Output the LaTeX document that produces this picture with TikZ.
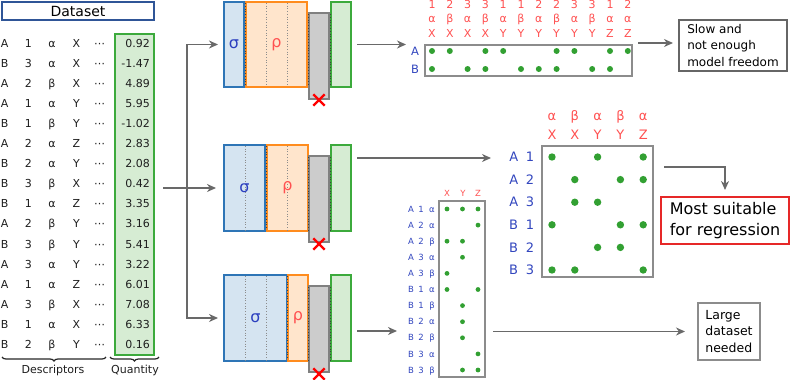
\documentclass[tikz,border=0pt]{standalone}
\usepackage{fontspec}
\setmainfont{DejaVu Sans}
\usetikzlibrary{arrows.meta,decorations.pathreplacing,shapes.misc}

\definecolor{sigB}{RGB}{46,117,182}
\definecolor{sigF}{RGB}{213,228,241}
\definecolor{rhoB}{RGB}{255,140,30}
\definecolor{rhoF}{RGB}{255,229,204}
\definecolor{grB}{RGB}{128,128,128}
\definecolor{grF}{RGB}{204,204,204}
\definecolor{gnB}{RGB}{60,170,60}
\definecolor{gnF}{RGB}{214,236,211}
\definecolor{sigT}{RGB}{43,63,191}
\definecolor{hdrT}{RGB}{255,80,80}
\definecolor{rowT}{RGB}{50,70,190}
\definecolor{dotG}{RGB}{50,160,50}
\definecolor{arrG}{RGB}{105,105,105}
\definecolor{dsB}{RGB}{47,85,151}
\definecolor{txtC}{RGB}{30,30,30}
\definecolor{mxB}{RGB}{140,140,140}
\definecolor{mostB}{RGB}{230,40,40}

\tikzset{
  fs/.style={font=\fontsize{#1}{#1}\selectfont},
  blk/.style={draw, line width=1.6pt, inner sep=0pt, outer sep=0pt},
  sigbox/.style={blk, draw=sigB, fill=sigF},
  rhobox/.style={blk, draw=rhoB, fill=rhoF},
  graybox/.style={blk, draw=grB, fill=grF},
  greenbox/.style={blk, draw=gnB, fill=gnF},
  sep/.style={draw=black!75, line width=0.8pt, dotted},
  innerdot/.style={draw=black!45, line width=0.7pt, dotted},
  xmark/.style={cross out, draw=red, line width=2.4pt, minimum size=9pt, inner sep=0pt},
  sigtxt/.style={fs=16, text=sigT, inner sep=0pt},
  rhotxt/.style={fs=16, text=hdrT, inner sep=0pt},
  tt/.style={fs=11, text=txtC, inner sep=0pt},
  hdr/.style={fs=11, text=hdrT, inner sep=0pt},
  rowl/.style={fs=11.5, text=rowT, inner sep=0pt},
  hdrM/.style={fs=13, text=hdrT, inner sep=0pt},
  rowM/.style={fs=13, text=rowT, inner sep=0pt},
  hdrS/.style={fs=8.5, text=hdrT, inner sep=0pt},
  rowS/.style={fs=8.5, text=rowT, inner sep=0pt},
  mx/.style={draw=mxB, line width=1.2pt, inner sep=0pt, outer sep=0pt},
  msgbox/.style={draw=#1, line width=1.2pt, inner sep=0pt, outer sep=0pt, align=left, text=black},
  arr/.style={draw=arrG, line width=1.5pt, -{Stealth[length=9pt,width=8pt]}},
  brc/.style={draw=black!85, line width=1.2pt, decorate, decoration={brace, mirror, amplitude=4pt}},
}

\begin{document}
\begin{tikzpicture}[x=1pt,y=-1pt]
\useasboundingbox (0,0) rectangle (790,380);

% ---------------- dataset ----------------
\node[draw=dsB, line width=1.5pt, minimum width=152pt, minimum height=18pt, inner sep=0pt, fs=14] (ds) at (78,11) {Dataset};
\node[greenbox, line width=1.8pt, minimum width=39pt, minimum height=321pt] (qb) at (134.5,194.5) {};

\foreach \i/\a/\b/\c/\d/\v in {1/A/1/α/X/0.92, 2/B/3/α/X/-1.47, 3/A/2/β/X/4.89, 4/A/1/α/Y/5.95,
  5/B/1/β/Y/-1.02, 6/A/2/α/Z/2.83, 7/B/2/α/Y/2.08, 8/B/3/β/X/0.42, 9/B/1/α/Z/3.35, 10/A/2/β/Y/3.16,
  11/B/3/β/Y/5.41, 12/A/3/α/Y/3.22, 13/A/1/α/Z/6.01, 14/A/3/β/X/7.08, 15/B/1/α/X/6.33, 16/B/2/β/Y/0.16} {
  \pgfmathsetmacro\yy{43+20.1*(\i-1)+4}
  \node[tt, anchor=base] (ta\i) at (4.7,\yy) {\a};
  \node[tt, anchor=base] (tb\i) at (28.3,\yy) {\b};
  \node[tt, anchor=base] (tc\i) at (52,\yy) {\c};
  \node[tt, anchor=base] (td\i) at (76.5,\yy) {\d};
  \node[tt, anchor=base] (te\i) at (99.5,\yy) {⋯};
  \node[tt, anchor=base east] (tv\i) at (150,\yy) {\v};
}
\draw[brc] (2,357) -- (106,357);
\draw[brc] (110,357) -- (159,357);
\node[tt, anchor=base] (lblD) at (53,373) {Descriptors};
\node[tt, anchor=base] (lblQ) at (135,373) {Quantity};

% ---------------- architectures ----------------
% top
\node[sigbox, minimum width=20pt, minimum height=85pt] (s1) at (234,44.5) {};
\node[rhobox, minimum width=61pt, minimum height=85pt] (r1) at (276.5,44.5) {};
\node[graybox, minimum width=20pt, minimum height=86pt] (g1) at (319,56) {};
\node[greenbox, minimum width=20pt, minimum height=85pt] (n1) at (341,44.5) {};
\draw[innerdot] (266,3) -- (266,86); \draw[innerdot] (287,3) -- (287,86);
\draw[sep] (245,3) -- (245,86); \draw[sep] (308,14) -- (308,86); \draw[sep] (330,14) -- (330,86);
\node[sigtxt] (s1t) at (s1) {σ};
\node[rhotxt] (r1t) at (r1) {ρ};
\node[xmark] (x1) at (319,100) {};
% middle
\node[sigbox, minimum width=41pt, minimum height=86pt] (s2) at (244.5,188) {};
\node[rhobox, minimum width=41pt, minimum height=86pt] (r2) at (287.5,188) {};
\node[graybox, minimum width=20pt, minimum height=86pt] (g2) at (319,199) {};
\node[greenbox, minimum width=20pt, minimum height=86pt] (n2) at (341,188) {};
\draw[innerdot] (245,146) -- (245,230); \draw[innerdot] (287,146) -- (287,230);
\draw[sep] (266,146) -- (266,230); \draw[sep] (308,157) -- (308,230); \draw[sep] (330,157) -- (330,230);
\node[sigtxt] (s2t) at (s2) {σ};
\node[rhotxt] (r2t) at (r2) {ρ};
\node[xmark] (x2) at (319,244) {};
% bottom
\node[sigbox, minimum width=63pt, minimum height=86pt] (s3) at (255.5,318) {};
\node[rhobox, minimum width=20pt, minimum height=86pt] (r3) at (298,318) {};
\node[graybox, minimum width=20pt, minimum height=86pt] (g3) at (319,329) {};
\node[greenbox, minimum width=20pt, minimum height=86pt] (n3) at (341,318) {};
\draw[innerdot] (245,276) -- (245,360); \draw[innerdot] (266,276) -- (266,360);
\draw[sep] (287.5,276) -- (287.5,360); \draw[sep] (308,287) -- (308,360); \draw[sep] (330,287) -- (330,360);
\node[sigtxt] (s3t) at (s3) {σ};
\node[rhotxt] (r3t) at (r3) {ρ};
\node[xmark] (x3) at (319,374) {};

% ---------------- top matrix ----------------
\node[mx, minimum width=207pt, minimum height=31pt] (tm) at (528.5,60.5) {};
\foreach \j/\n/\g/\l in {1/1/α/X, 2/2/β/X, 3/3/α/X, 4/3/β/X, 5/1/α/Y, 6/1/β/Y, 7/2/α/Y, 8/2/β/Y,
  9/3/α/Y, 10/3/β/Y, 11/1/α/Z, 12/2/α/Z} {
  \pgfmathsetmacro\xx{432+17.8*(\j-1)}
  \node[hdr, anchor=base] (tha\j) at (\xx,8.8) {\n};
  \node[hdr, anchor=base] (thb\j) at (\xx,22) {\g};
  \node[hdr, anchor=base] (thc\j) at (\xx,37) {\l};
}
\foreach \j in {1,2,4,5,8,9,11,12} { \fill[dotG] ({432+17.8*(\j-1)},51) circle (3); }
\foreach \j in {1,3,4,6,7,8,10,11} { \fill[dotG] ({432+17.8*(\j-1)},69) circle (3); }
\node[rowl, anchor=base] (tra) at (415,55) {A};
\node[rowl, anchor=base] (trb) at (415,73) {B};

% ---------------- middle matrix ----------------
\node[mx, minimum width=111pt, minimum height=131pt] (mm) at (597.5,211.5) {};
\foreach \j/\g/\l in {1/α/X, 2/β/X, 3/α/Y, 4/β/Y, 5/α/Z} {
  \pgfmathsetmacro\xx{552+22.8*(\j-1)}
  \node[hdrM, anchor=base] (mha\j) at (\xx,120) {\g};
  \node[hdrM, anchor=base] (mhb\j) at (\xx,139.2) {\l};
}
\foreach \i/\a/\b/\cols in {1/A/1/{1,3,5}, 2/A/2/{2,4,5}, 3/A/3/{2,3}, 4/B/1/{1,4,5}, 5/B/2/{3,4}, 6/B/3/{1,2,5}} {
  \pgfmathsetmacro\yy{157+22.6*(\i-1)}
  \node[rowM, anchor=base] (mra\i) at (513.7,\yy+4.7) {\a};
  \node[rowM, anchor=base] (mrb\i) at (530,\yy+4.7) {\b};
  \foreach \j in \cols { \fill[dotG] ({552+22.8*(\j-1)},\yy) circle (3.7); }
}

% ---------------- bottom matrix ----------------
\node[mx, minimum width=46pt, minimum height=176pt] (bm) at (462,289) {};
\node[hdrS, anchor=base] (bhx) at (447,196) {X};
\node[hdrS, anchor=base] (bhy) at (463,196) {Y};
\node[hdrS, anchor=base] (bhz) at (478,196) {Z};
\foreach \i/\a/\b/\c/\cols in {1/A/1/α/{1,2,3}, 2/A/2/α/{3}, 3/A/2/β/{1,2}, 4/A/3/α/{2}, 5/A/3/β/{1},
  6/B/1/α/{1,3}, 7/B/1/β/{2}, 8/B/2/α/{2}, 9/B/2/β/{2}, 10/B/3/α/{3}, 11/B/3/β/{2,3}} {
  \pgfmathsetmacro\yy{209+16.1*(\i-1)}
  \node[rowS, anchor=base] (bra\i) at (411,\yy+3.1) {\a};
  \node[rowS, anchor=base] (brb\i) at (421,\yy+3.1) {\b};
  \node[rowS, anchor=base] (brc\i) at (432,\yy+3.1) {\c};
  \foreach \j in \cols { \fill[dotG] ({447+15.5*(\j-1)},\yy) circle (2.4); }
}

% ---------------- message boxes ----------------
\node[msgbox=black!60, minimum width=108pt, minimum height=51pt, font=\fontsize{12}{16.6}\selectfont] (slow) at (733,45.5)
  {Slow and\\not enough\\model freedom};
\node[msgbox=mostB, minimum width=128pt, minimum height=47pt, font=\fontsize{16}{21}\selectfont] (most) at (725,220.5)
  {Most suitable\\for regression};
\node[msgbox=black!45, minimum width=62pt, minimum height=57pt, font=\fontsize{12.5}{16.5}\selectfont] (large) at (729,331.5)
  {Large\\dataset\\needed};

% ---------------- connectors ----------------
\coordinate (tabout) at (163,188);
\coordinate (tr) at (187,188);
\draw[arr, shorten >=8pt] (tabout) -- (s2.west);
\draw[arr, shorten >=6pt] (tr) |- (s1.west);
\draw[arr, shorten >=6pt] (tr) |- (s3.west);

\coordinate (o1e) at (406,44.5);
\draw[arr, shorten <=6pt] (n1.east) -- (o1e);
\coordinate (o2s) at (357,158);
\coordinate (o2e) at (491,158);
\draw[arr] (o2s) -- (o2e);
\coordinate (o3s) at (357,331);
\coordinate (o3e) at (397,331);
\draw[arr] (o3s) -- (o3e);
\coordinate (o4s) at (493,331.5);
\draw[arr, shorten >=13pt] (o4s) -- (large.west);
\coordinate (o5s) at (638,43);
\coordinate (o5e) at (673,43);
\draw[arr] (o5s) -- (o5e);
\coordinate (o6s) at (664,167);
\draw[arr, shorten >=7pt] (o6s) -| (most.north);
\end{tikzpicture}
\end{document}
